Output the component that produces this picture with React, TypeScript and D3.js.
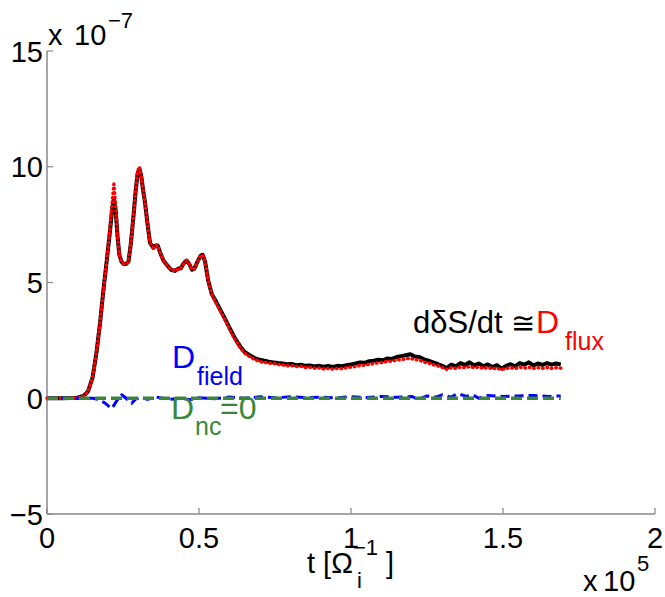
import React from "react";
import * as d3 from "d3";

// x in units of 1e5 (t [Omega_i^-1]), y in units of 1e-7
const xTicks = [0, 0.5, 1, 1.5, 2];
const xTickLabels = ["0", "0.5", "1", "1.5", "2"];
const yTicks = [-5, 0, 5, 10, 15];
const yTickLabels = ["\u22125", "0", "5", "10", "15"];

const dSdt: [number, number][] = [
  [0, 0], [0.05, 0], [0.1, 0.02], [0.12, 0.1], [0.135, 0.3], [0.15, 0.9], [0.163, 2.0],
  [0.175, 3.3], [0.185, 4.6], [0.197, 6.0], [0.207, 7.2], [0.214, 8.1], [0.22, 8.6],
  [0.226, 8.1], [0.232, 7.0], [0.238, 6.2], [0.245, 5.9], [0.252, 5.8], [0.26, 5.8],
  [0.268, 5.9], [0.276, 6.7], [0.284, 7.8], [0.292, 9.0], [0.298, 9.7], [0.304, 9.9],
  [0.31, 9.6], [0.316, 9.0], [0.322, 8.5], [0.33, 7.6], [0.339, 6.7], [0.35, 6.5],
  [0.357, 6.6], [0.364, 6.6], [0.372, 6.3], [0.383, 5.95], [0.395, 5.75], [0.408, 5.55],
  [0.421, 5.5], [0.432, 5.6], [0.44, 5.6], [0.448, 5.8], [0.459, 5.95], [0.468, 5.8],
  [0.477, 5.55], [0.485, 5.6], [0.495, 5.9], [0.505, 6.15], [0.512, 6.2], [0.52, 5.9],
  [0.53, 5.1], [0.542, 4.5], [0.555, 4.2], [0.569, 3.85], [0.585, 3.45], [0.602, 3.0],
  [0.618, 2.6], [0.635, 2.25], [0.65, 2.0], [0.668, 1.85], [0.685, 1.72],
  [0.7, 1.66], [0.715, 1.62], [0.73, 1.58], [0.745, 1.55], [0.76, 1.52], [0.775, 1.5],
  [0.79, 1.47], [0.805, 1.48], [0.82, 1.43], [0.835, 1.45], [0.85, 1.4], [0.865, 1.42],
  [0.88, 1.37], [0.895, 1.4], [0.91, 1.36], [0.925, 1.39], [0.94, 1.35], [0.955, 1.4],
  [0.97, 1.38], [0.985, 1.43], [1.0, 1.46], [1.015, 1.5], [1.03, 1.55], [1.045, 1.53],
  [1.06, 1.6], [1.075, 1.62], [1.09, 1.66], [1.105, 1.64], [1.12, 1.72], [1.135, 1.7],
  [1.15, 1.78], [1.165, 1.82], [1.18, 1.86], [1.195, 1.9], [1.21, 1.8], [1.225, 1.78],
  [1.24, 1.68], [1.255, 1.62], [1.27, 1.55], [1.285, 1.48], [1.3, 1.4], [1.315, 1.3],
  [1.33, 1.45], [1.345, 1.38], [1.36, 1.52], [1.375, 1.44], [1.39, 1.55], [1.405, 1.42],
  [1.42, 1.5], [1.435, 1.38], [1.45, 1.46], [1.465, 1.35], [1.48, 1.43], [1.495, 1.28],
  [1.51, 1.4], [1.525, 1.47], [1.54, 1.38], [1.555, 1.52], [1.57, 1.45], [1.585, 1.55],
  [1.6, 1.42], [1.615, 1.5], [1.63, 1.44], [1.645, 1.52], [1.66, 1.45], [1.675, 1.5],
  [1.69, 1.46],
];

const Dflux: [number, number][] = [
  [0, 0], [0.05, 0], [0.1, 0.02], [0.12, 0.1], [0.135, 0.3], [0.15, 0.9], [0.163, 2.0],
  [0.175, 3.3], [0.185, 4.6], [0.197, 6.0], [0.207, 7.3], [0.214, 8.4], [0.22, 9.25],
  [0.226, 8.3], [0.232, 7.0], [0.238, 6.2], [0.245, 5.9], [0.252, 5.8], [0.26, 5.8],
  [0.268, 5.9], [0.276, 6.7], [0.284, 7.8], [0.292, 9.0], [0.298, 9.8], [0.304, 10.0],
  [0.31, 9.6], [0.316, 9.0], [0.322, 8.5], [0.33, 7.6], [0.339, 6.7], [0.35, 6.5],
  [0.357, 6.6], [0.364, 6.6], [0.372, 6.3], [0.383, 5.95], [0.395, 5.75], [0.408, 5.55],
  [0.421, 5.5], [0.432, 5.6], [0.44, 5.6], [0.448, 5.8], [0.459, 5.95], [0.468, 5.8],
  [0.477, 5.55], [0.485, 5.6], [0.495, 5.9], [0.505, 6.15], [0.512, 6.2], [0.52, 5.9],
  [0.53, 5.1], [0.542, 4.5], [0.555, 4.15], [0.569, 3.8], [0.585, 3.4], [0.602, 2.95],
  [0.618, 2.55], [0.635, 2.2], [0.65, 1.95], [0.668, 1.78], [0.685, 1.66],
  [0.7, 1.58], [0.715, 1.55], [0.73, 1.52], [0.745, 1.5], [0.76, 1.46], [0.775, 1.44],
  [0.79, 1.4], [0.805, 1.41], [0.82, 1.37], [0.835, 1.38], [0.85, 1.33], [0.865, 1.34],
  [0.88, 1.3], [0.895, 1.31], [0.91, 1.27], [0.925, 1.29], [0.94, 1.26], [0.955, 1.29],
  [0.97, 1.28], [0.985, 1.32], [1.0, 1.35], [1.015, 1.37], [1.03, 1.42], [1.045, 1.43],
  [1.06, 1.47], [1.075, 1.5], [1.09, 1.53], [1.105, 1.55], [1.12, 1.6], [1.135, 1.6],
  [1.15, 1.65], [1.165, 1.67], [1.18, 1.7], [1.195, 1.73], [1.21, 1.67], [1.225, 1.65],
  [1.24, 1.56], [1.255, 1.52], [1.27, 1.45], [1.285, 1.4], [1.3, 1.33], [1.315, 1.25],
  [1.33, 1.32], [1.345, 1.29], [1.36, 1.35], [1.375, 1.32], [1.39, 1.37], [1.405, 1.32],
  [1.42, 1.35], [1.435, 1.29], [1.45, 1.33], [1.465, 1.27], [1.48, 1.3], [1.495, 1.24],
  [1.51, 1.29], [1.525, 1.32], [1.54, 1.28], [1.555, 1.34], [1.57, 1.3], [1.585, 1.34],
  [1.6, 1.29], [1.615, 1.32], [1.63, 1.29], [1.645, 1.33], [1.66, 1.29], [1.675, 1.32],
  [1.69, 1.3],
];

const Dfield: [number, number][] = [
  [0, 0], [0.1, 0], [0.15, 0.0], [0.17, -0.05], [0.19, -0.2], [0.213, -0.45], [0.23, -0.1],
  [0.246, 0.15], [0.26, 0.0], [0.279, -0.22], [0.29, -0.05], [0.31, 0.05], [0.33, -0.05],
  [0.36, 0.05], [0.4, -0.05], [0.44, 0.0], [0.47, -0.06], [0.5, 0.02], [0.55, -0.02],
  [0.6, 0.05], [0.65, 0.0], [0.7, 0.06], [0.75, 0.02], [0.8, 0.06], [0.85, 0.03],
  [0.9, 0.05], [0.95, 0.02], [1.0, 0.07], [1.05, 0.03], [1.1, 0.08], [1.15, 0.04],
  [1.2, 0.08], [1.22, -0.05], [1.25, 0.1], [1.28, 0.05], [1.3, 0.15], [1.33, 0.05],
  [1.35, 0.2], [1.38, 0.08], [1.4, 0.15], [1.42, 0.0], [1.45, 0.12], [1.5, 0.08],
  [1.55, 0.1], [1.6, 0.12], [1.65, 0.08], [1.69, 0.1],
];

const Dnc: [number, number][] = [
  [0, 0], [1.69, 0],
];

const FONT = "'Liberation Sans', Arial, Helvetica, sans-serif";
const BLUE = "#0000ff";
const RED = "#ff0000";
const GREEN = "#3a873a";
const AXIS = "#888888";

export default function App() {
  const W = 665;
  const H = 597;
  const x = d3.scaleLinear().domain([0, 2]).range([47, 655]);
  const y = d3.scaleLinear().domain([-5, 15]).range([514, 51]);
  const line = d3
    .line<[number, number]>()
    .x((d) => x(d[0]))
    .y((d) => y(d[1]));

  return (
    <svg
      width={W}
      height={H}
      style={{ position: "absolute", left: 0, top: 0, background: "#fff" }}
      fontFamily={FONT}
    >
      <rect x={0} y={0} width={W} height={H} fill="#fff" />
      {/* axes */}
      <line x1={x(0)} x2={x(2)} y1={y(-5)} y2={y(-5)} stroke={AXIS} strokeWidth={1.5} />
      <line x1={x(0)} x2={x(0)} y1={y(-5)} y2={y(15)} stroke={AXIS} strokeWidth={1.5} />
      {xTicks.map((t, i) => (
        <g key={"xt" + i}>
          <line x1={x(t)} x2={x(t)} y1={y(-5)} y2={y(-5) - 6} stroke={AXIS} strokeWidth={1.2} />
          <text x={x(t)} y={548} fontSize={29} textAnchor="middle" fill="#000">
            {xTickLabels[i]}
          </text>
        </g>
      ))}
      {yTicks.map((t, i) => (
        <g key={"yt" + i}>
          <line x1={x(0)} x2={x(0) + 6} y1={y(t)} y2={y(t)} stroke={AXIS} strokeWidth={1.2} />
          <text x={43} y={y(t) + 10.5} fontSize={29} textAnchor="end" fill="#000">
            {yTickLabels[i]}
          </text>
        </g>
      ))}
      {/* exponent labels */}
      <text x={48} y={45} fontSize={29} fill="#000">x</text>
      <text x={74} y={45} fontSize={29} fill="#000">10</text>
      <text x={108} y={28} fontSize={22} fill="#000">{"\u22127"}</text>
      <text x={583} y={591} fontSize={29} fill="#000">x</text>
      <text x={603} y={591} fontSize={29} fill="#000">10</text>
      <text x={637} y={571} fontSize={22} fill="#000">5</text>
      {/* x label */}
      <text x={307} y={573} fontSize={29} fill="#000">{"t [\u03A9"}</text>
      <text x={353} y={555} fontSize={22} fill="#000">{"\u22121"}</text>
      <text x={357} y={588} fontSize={22} fill="#000">i</text>
      <text x={386} y={573} fontSize={29} fill="#000">]</text>

      {/* series */}
      <path d={line(dSdt) || ""} fill="none" stroke="#000" strokeWidth={4} strokeLinejoin="round" />
      <path
        d={line(Dflux) || ""}
        fill="none"
        stroke={RED}
        strokeWidth={3.5}
        strokeDasharray="0.5 4"
        strokeLinecap="round"
        strokeLinejoin="round"
      />
      <path
        d={line(Dfield) || ""}
        fill="none"
        stroke={BLUE}
        strokeWidth={3}
        strokeDasharray="9 5"
        strokeLinejoin="round"
      />
      <path
        d={line(Dnc) || ""}
        fill="none"
        stroke={GREEN}
        strokeWidth={3.5}
        strokeDasharray="11 5"
      />

      {/* annotations */}
      <text x={413} y={333} fontSize={31} fill="#000">{"d\u03B4S/dt"}</text>
      <text x={511} y={333} fontSize={29} fill="#000">{"\u2245"}</text>
      <text x={536} y={333} fontSize={32} fill={RED}>D</text>
      <text x={565} y={350} fontSize={25} fill={RED}>flux</text>

      <text x={172} y={368} fontSize={32} fill={BLUE}>D</text>
      <text x={197} y={385} fontSize={25} fill={BLUE}>field</text>

      <text x={171} y={419} fontSize={32} fill={GREEN}>D</text>
      <text x={195} y={435} fontSize={25} fill={GREEN}>nc</text>
      <text x={220} y={419} fontSize={32} fill={GREEN}>=0</text>
    </svg>
  );
}
